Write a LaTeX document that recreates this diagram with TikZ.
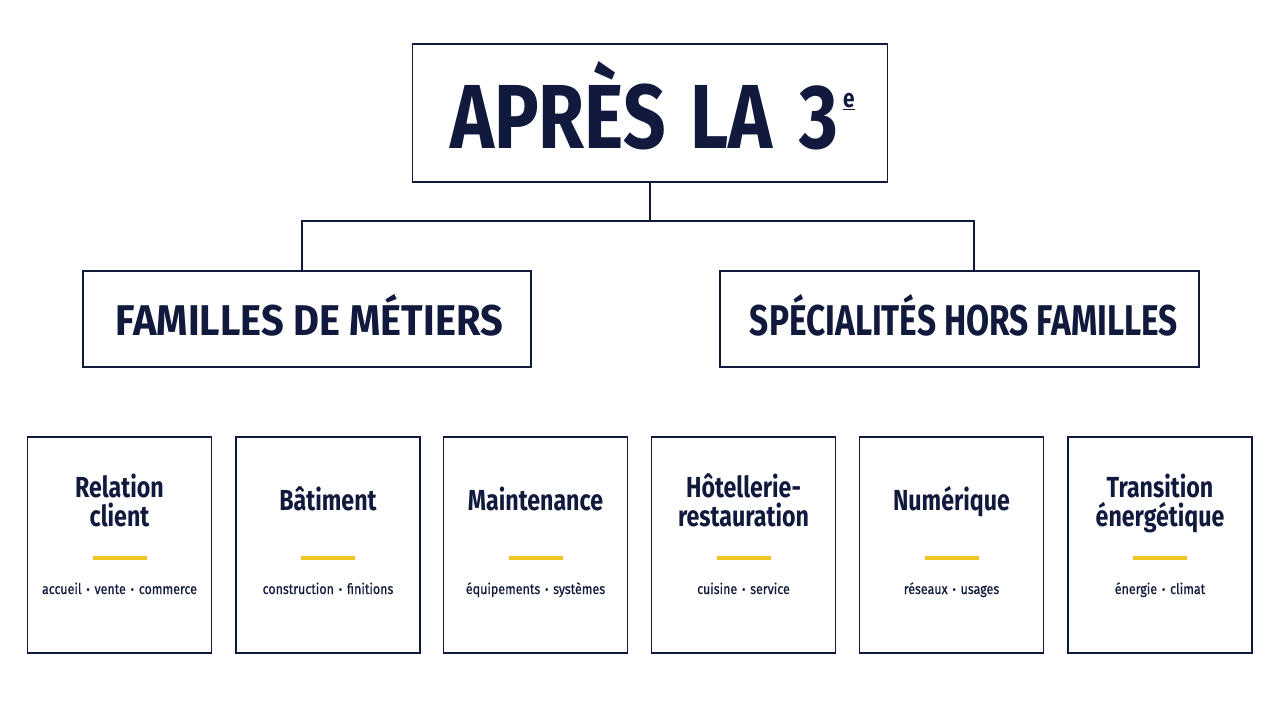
\documentclass[tikz,border=0pt]{standalone}
\usepackage{fontspec}
\setmainfont{Fira Sans}
\newfontfamily\hdfont[FakeStretch=0.8]{Fira Sans}
\newfontfamily\subfont[FakeStretch=0.86,FakeBold=0.6]{Fira Sans}
\definecolor{navy}{HTML}{111A3D}
\definecolor{gold}{HTML}{EFC623}
\newcommand{\sep}{\hspace{5pt}\textbf{·}\hspace{5pt}}
\begin{document}
\begin{tikzpicture}[x=1pt,y=-1pt,
  box/.style={draw=navy, line width=1.8pt, fill=white, inner sep=0pt},
  conn/.style={draw=navy, line width=1.8pt},
  bigt/.style={text=navy, font=\hdfont\bfseries\fontsize{91}{91}\selectfont, inner sep=0pt, anchor=base west},
  midt/.style={text=navy, font=\hdfont\bfseries\fontsize{43}{43}\selectfont, inner sep=0pt, anchor=base},
  ttl/.style={text=navy, font=\hdfont\bfseries\fontsize{29}{29}\selectfont, align=center, inner sep=0pt, anchor=base},
  sub/.style={text=navy, font=\subfont\fontsize{14.5}{16}\selectfont, inner sep=0pt, anchor=base},
  bar/.style={draw=gold, line width=3.5pt},
  card/.style={box, minimum width=184pt, minimum height=216pt}]
\useasboundingbox[fill=white] (0,0) rectangle (1280,702);

% top
\node[box, minimum width=475pt, minimum height=138pt] (top) at (650,113) {};
\node[bigt] (toptxt) at (450,148) {\resizebox{388pt}{\height}{APRÈS\kern24pt LA\kern26pt 3}\kern5pt\raisebox{41pt}{\fontsize{26}{26}\selectfont\underline{e}}};

% middle
\node[box, minimum width=448pt, minimum height=96pt] (fam) at (307,319) {};
\node[box, minimum width=479pt, minimum height=96pt] (spec) at (959.5,319) {};
\node[midt] (famtxt) at (309.5,335) {\resizebox{387pt}{\height}{FAMILLES DE MÉTIERS}};
\node[midt] (spectxt) at (964,335) {\resizebox{428pt}{\height}{SPÉCIALITÉS HORS FAMILLES}};

\coordinate (jl) at (302,221);
\coordinate (jr) at (974,221);
\draw[conn] (top.south) -- (top.south |- jl);
\draw[conn] (jl |- fam.north) -- (jl) -- (jr) -- (jr |- spec.north);

% cards
\foreach \n/\x in {c1/119.5, c2/328, c3/535.5, c4/743.5, c5/951.5, c6/1160}{
  \node[card] (\n) at (\x,545) {};
  \draw[bar] (\x-27,558) -- (\x+27,558);
}
\node[ttl] (t1) at (119.5,526) {Relation\\client};
\node[ttl] (t2) at (328,510) {Bâtiment};
\node[ttl] (t3) at (535.5,510) {Maintenance};
\node[ttl] (t4) at (743.5,526) {Hôtellerie-\\restauration};
\node[ttl] (t5) at (951.5,510) {Numérique};
\node[ttl] (t6) at (1160,526) {Transition\\énergétique};

\node[sub] (s1) at (119.5,594) {accueil\sep vente\sep commerce};
\node[sub] (s2) at (328,594) {construction\sep finitions};
\node[sub] (s3) at (535.5,594) {équipements\sep systèmes};
\node[sub] (s4) at (743.5,594) {cuisine\sep service};
\node[sub] (s5) at (951.5,594) {réseaux\sep usages};
\node[sub] (s6) at (1160,594) {énergie\sep climat};
\end{tikzpicture}
\end{document}
